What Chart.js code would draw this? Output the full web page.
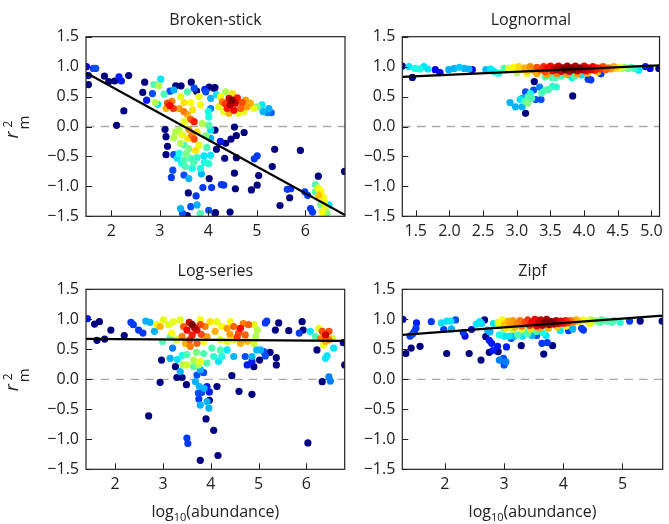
<!DOCTYPE html>
<html>
<head>
<meta charset="utf-8">
<script src="https://cdn.jsdelivr.net/npm/chart.js@4.4.1/dist/chart.umd.min.js"></script>
<style>
  body { margin: 0; background: #fff; }
  canvas { position: absolute; }
</style>
</head>
<body>
<canvas id="bsChart" width="350" height="250" style="left:0;top:0"></canvas>
<canvas id="lnChart" width="319" height="250" style="left:350px;top:0"></canvas>
<canvas id="lsChart" width="350" height="274" style="left:0;top:250px"></canvas>
<canvas id="zfChart" width="319" height="274" style="left:350px;top:250px"></canvas>
<script>
// each point: [log10(abundance), r2m, density 0..1 (colour in picture)]
const brokenStick = [
  [1.49,1.00,0.08],[1.63,0.97,0.2],[1.68,0.97,0.2],[1.53,0.85,0.05],[1.53,0.70,0],
  [1.86,0.84,0],[1.95,0.75,0],[2.07,0.76,0],[2.16,0.83,0.15],[2.21,0.76,0.15],[2.36,0.85,0],
  [2.26,0.26,0],[2.11,0.02,0],[2.69,0.74,0],[2.65,0.57,0],[2.73,0.44,0.15],[2.85,0.55,0.2],
  [2.88,0.70,0.45],[2.98,0.68,0.55],[3.02,0.79,0.35],[2.91,0.40,0.55],[2.96,0.37,0.35],[3.09,0.54,0.45],
  [3.21,0.35,0.88],[3.16,0.39,0.8],[3.28,0.30,0.82],[3.25,0.42,0.75],[3.13,0.30,0.7],
  [3.33,0.68,0],[3.44,0.68,0],[3.21,0.59,0.2],[3.29,0.61,0.3],[3.43,0.50,0.6],[3.50,0.40,0.65],
  [3.50,0.25,0.75],[3.64,0.40,0.62],[3.57,0.58,0.45],[3.65,0.74,0],[3.71,0.64,0.2],[3.81,0.50,0.6],
  [3.84,0.36,0.62],[3.95,0.58,0.2],[3.76,0.59,0],[3.93,0.62,0.15],
  [3.71,0.08,0.85],[3.64,0.12,0.78],[3.50,0.08,0.6],[3.46,-0.14,0.6],[3.40,-0.06,0.55],[3.71,-0.21,0.8],
  [3.77,-0.09,0.65],[3.74,-0.40,0.65],[3.81,-0.31,0.6],[3.60,-0.37,0.5],[3.50,-0.31,0.45],[3.43,-0.28,0.55],
  [3.29,-0.19,0.55],[3.33,-0.09,0.55],[3.57,0.20,0.7],[3.40,0.30,0.72],[3.68,0.28,0.65],[3.60,-0.05,0.72],
  [3.66,-0.15,0.75],
  [3.11,-0.05,0],[3.13,-0.17,0],[3.16,-0.33,0],[3.13,-0.47,0],[3.29,-0.47,0.2],[3.36,-0.53,0.35],
  [3.50,-0.56,0.45],[3.64,-0.53,0.45],[3.77,-0.52,0.42],[3.91,-0.49,0.35],[4.05,-0.48,0.35],[3.53,-0.67,0.45],
  [3.67,-0.70,0.4],[3.84,-0.70,0.4],[4.01,-0.62,0.42],[3.27,-0.73,0.2],[3.24,-0.85,0.18],[3.50,-0.81,0.2],
  [3.60,-0.87,0.3],[3.86,-0.79,0.3],[4.02,-0.87,0],[3.59,-1.11,0],[3.75,-1.16,0.18],[3.89,-1.02,0.18],
  [3.64,-1.34,0.2],[3.77,-1.31,0.3],[3.84,-1.45,0.45],[3.43,-1.37,0.3],[3.47,-1.45,0.2],[3.57,-1.49,0],
  [4.07,-1.02,0.18],[4.14,-1.45,0],[4.01,-1.40,0.2],
  [3.58,-0.20,0.65],[3.55,-0.45,0.5],[3.70,-0.60,0.45],[3.45,-0.62,0.4],[3.92,-0.60,0.4],[3.40,-0.45,0.4],
  [3.97,-0.35,0.45],[3.95,-0.15,0.5],[3.88,0.05,0.55],[4.00,0.25,0.4],
  [4.02,0.66,0],[4.12,0.64,0],[4.05,0.47,0.3],[4.05,0.30,0.25],[4.01,0.16,0.4],[4.01,0.02,0.45],
  [4.05,-0.06,0.35],[4.05,-0.20,0.3],
  [4.49,0.44,1.0],[4.43,0.47,0.92],[4.56,0.39,0.92],[4.39,0.30,0.85],[4.53,0.27,0.88],[4.67,0.30,0.78],
  [4.29,0.41,0.75],[4.25,0.50,0.62],[4.36,0.58,0.55],[4.22,0.33,0.6],[4.17,0.53,0.35],[4.77,0.44,0.72],
  [4.80,0.33,0.72],[4.87,0.39,0.7],[4.94,0.30,0.6],[4.74,0.25,0.6],[5.01,0.33,0.5],[5.11,0.36,0.35],
  [5.25,0.30,0.3],[5.22,0.23,0.25],[5.30,0.23,0.22],[5.13,0.25,0.3],[4.63,0.22,0.6],[4.43,0.22,0.7],
  [4.32,0.25,0.6],[4.45,0.36,0.95],[4.60,0.48,0.85],[4.70,0.40,0.8],[4.50,0.55,0.65],[4.35,0.38,0.82],
  [4.14,0.65,0],[4.14,-0.06,0],[4.54,-0.01,0],[4.58,-0.15,0],[4.47,-0.21,0],[4.74,-0.10,0],[4.25,-0.25,0.15],
  [4.36,-0.28,0],[4.17,-0.38,0],[4.34,-0.53,0],[4.58,-0.52,0],[5.37,-0.38,0],[5.90,-0.40,0],[4.95,-0.54,0.18],
  [5.01,-0.49,0.18],[5.32,-0.67,0],[4.54,-0.78,0],[5.04,-0.82,0],[4.27,-0.97,0.18],[4.32,-0.98,0.18],
  [4.56,-1.04,0],[5.01,-0.98,0],[4.89,-1.06,0],[5.63,-1.05,0.18],[5.70,-1.04,0.18],[5.68,-1.19,0],
  [5.48,-1.32,0],[4.15,-1.44,0],[4.45,-1.43,0],[6.81,-0.75,0],[6.27,-0.83,0],[5.99,-1.09,0.18],
  [6.05,-1.15,0.18],[6.11,-1.37,0.18],[6.15,-1.43,0.18],
  [6.21,-0.97,0.45],[6.26,-1.03,0.6],[6.32,-1.08,0.62],[6.28,-1.15,0.68],[6.37,-1.18,0.62],[6.39,-1.26,0.6],
  [6.32,-1.31,0.5],[6.42,-1.34,0.6],[6.35,-1.43,0.62],[6.45,-1.45,0.5],[6.21,-1.09,0.45],[6.49,-1.31,0.35]
];
const lognormal = [
  [1.30,1.01,0],[1.45,0.82,0],[1.40,1.00,0.35],[1.49,0.97,0.4],[1.56,0.96,0.4],[1.62,1.00,0.35],
  [1.68,0.96,0.35],[1.79,0.95,0.12],[1.86,0.90,0.1],[1.99,0.95,0.3],[2.07,0.97,0.3],[2.15,0.99,0.32],
  [2.22,0.97,0.3],[2.29,0.96,0.3],[2.34,0.95,0.12],[2.54,0.95,0.3],[2.61,0.96,0.35],[2.66,0.92,0.35],
  [2.73,0.89,0.4],[2.81,0.97,0.45],[2.88,0.97,0.6],
  [2.95,0.99,0.62],[2.98,0.94,0.6],[3.03,1.00,0.66],[3.06,0.95,0.65],[3.12,0.98,0.7],[3.15,0.93,0.68],
  [3.20,1.00,0.74],[3.24,0.95,0.74],[3.28,0.91,0.7],[3.30,0.99,0.8],[3.35,0.95,0.8],[3.40,1.00,0.84],
  [3.42,0.92,0.8],[3.46,0.97,0.88],[3.50,1.01,0.88],[3.53,0.93,0.88],[3.56,0.98,0.92],[3.60,0.95,0.95],
  [3.62,1.01,0.92],[3.66,0.92,0.92],[3.68,0.98,0.98],[3.72,0.95,1.0],[3.75,1.01,0.96],[3.78,0.92,0.95],
  [3.80,0.98,1.0],[3.84,0.95,1.0],[3.87,1.01,0.95],[3.90,0.93,0.95],[3.93,0.98,0.98],[3.97,0.95,0.95],
  [4.00,1.01,0.92],[4.03,0.93,0.9],[4.06,0.98,0.92],[4.10,0.95,0.9],[4.13,1.00,0.88],[4.16,0.94,0.85],
  [4.20,0.98,0.85],[4.24,0.96,0.82],[4.28,1.00,0.8],[4.32,0.95,0.78],[4.36,0.98,0.76],[4.40,0.96,0.72],
  [4.44,1.00,0.7],[4.48,0.97,0.66],[4.52,0.99,0.6],[4.56,0.97,0.56],[4.60,0.99,0.52],[4.65,0.97,0.48],
  [4.70,0.99,0.45],[4.75,0.97,0.42],
  [3.30,0.88,0.7],[3.45,0.87,0.72],[3.60,0.88,0.75],[3.75,0.87,0.72],[3.90,0.88,0.72],[4.05,0.89,0.7],
  [4.20,0.91,0.68],[3.15,0.89,0.62],[3.00,0.90,0.55],
  [3.57,0.82,0.45],[3.66,0.84,0.45],[3.86,0.84,0.45],[3.96,0.86,0.35],[4.06,0.79,0.18],[4.10,0.78,0.18],
  [4.25,0.88,0.18],[3.42,0.83,0.45],[3.52,0.82,0.45],[3.82,0.82,0.35],
  [4.81,0.94,0.35],[4.91,1.00,0.15],[4.98,0.97,0.12],[5.11,0.97,0],
  [2.90,0.40,0.3],[2.98,0.33,0.3],[3.05,0.45,0.35],[3.13,0.58,0.2],[3.13,0.22,0],[3.17,0.50,0.45],
  [3.16,0.39,0.5],[3.22,0.47,0.45],[3.26,0.75,0],[3.25,0.61,0.2],[3.28,0.45,0.2],[3.34,0.66,0.25],
  [3.36,0.45,0.2],[3.37,0.56,0.45],[3.42,0.61,0.45],[3.47,0.62,0.45],[3.53,0.67,0.42],[3.59,0.66,0.42],
  [3.08,0.33,0.3],[3.08,0.47,0.3],[3.12,0.42,0.45],[3.20,0.55,0.4],[3.83,0.51,0]
];
const logSeries = [
  [1.42,1.01,0.15],[1.57,0.92,0],[1.67,0.96,0],[1.62,0.65,0],[1.78,0.67,0],[1.91,0.82,0],[2.19,0.73,0],
  [2.33,0.95,0.18],[2.38,0.91,0.18],[2.49,0.82,0.18],[2.58,0.77,0.18],[2.64,0.97,0.3],[2.73,0.95,0.3],
  [2.70,-0.61,0],[2.82,0.80,0.3],[2.94,0.88,0.7],[2.87,0.91,0.62],[3.01,0.99,0.6],[2.99,0.63,0.45],
  [2.97,0.32,0],[2.94,-0.05,0],[3.20,0.52,0.25],[3.15,0.35,0.3],[3.26,0.21,0],[3.29,0.03,0],[3.40,0.03,0],
  [3.36,0.13,0.3],[3.42,0.24,0.55],[3.50,0.24,0.58],[3.49,-0.09,0],[3.50,-0.98,0.18],[3.52,-1.07,0.18],
  [3.61,0.91,1.0],[3.50,0.82,0.88],[3.71,0.82,0.9],[3.61,0.74,0.85],[3.43,0.88,0.78],[3.78,0.91,0.8],
  [3.88,0.88,0.75],[3.99,0.96,0.65],[3.40,0.71,0.75],[3.57,0.55,0.75],[3.71,0.60,0.78],[3.85,0.63,0.62],
  [3.92,0.71,0.72],[3.29,0.66,0.6],[3.18,0.77,0.62],[3.12,0.91,0.6],[3.22,0.96,0.6],[3.15,0.70,0.45],
  [3.36,0.99,0.6],[3.78,0.99,0.62],[3.55,0.95,0.92],[3.66,0.86,0.95],[3.56,0.66,0.8],[3.47,0.60,0.7],
  [3.80,0.75,0.8],
  [3.64,0.32,0.55],[3.78,0.30,0.6],[3.74,0.24,0.55],[3.64,0.21,0.45],[3.92,0.27,0.45],[3.50,0.41,0.45],
  [3.85,0.43,0.45],[4.06,0.38,0.42],[4.02,0.52,0.45],[4.20,0.49,0.45],[4.23,0.38,0.4],[4.16,0.30,0.35],
  [4.34,0.49,0.35],[4.48,0.38,0.3],[3.70,0.45,0.5],[3.40,0.40,0.4],[3.30,0.33,0.35],
  [3.71,0.07,0.2],[3.78,0.16,0.3],[3.85,0.11,0.2],[3.68,-0.04,0.3],[3.76,-0.12,0.3],[3.86,-0.15,0.3],
  [3.74,-0.23,0.2],[3.81,-0.22,0.2],[3.92,-0.12,0.15],[3.97,-0.21,0.15],[4.13,-0.12,0],[3.75,-0.33,0.18],
  [3.92,-0.37,0.3],[3.78,-0.43,0.3],[3.96,-0.48,0.3],[3.97,-0.35,0],[3.90,-0.66,0],[4.06,-0.85,0],
  [4.15,-1.27,0],[3.78,-1.35,0],[4.44,0.06,0],[4.59,-0.20,0],[4.86,-0.25,0],
  [4.48,0.88,0.78],[4.62,0.85,0.88],[4.58,0.77,0.8],[4.79,0.91,0.78],[4.72,0.74,0.78],[4.34,0.85,0.72],
  [4.23,0.88,0.62],[4.13,0.96,0.6],[4.41,0.96,0.62],[4.48,0.66,0.6],[4.62,0.60,0.7],[4.76,0.63,0.68],
  [4.34,0.63,0.6],[4.20,0.66,0.6],[4.90,0.91,0.6],[4.97,0.82,0.55],[4.94,0.71,0.55],[4.90,0.60,0.58],
  [4.09,0.80,0.7],[4.55,0.70,0.82],[4.68,0.93,0.75],[4.40,0.75,0.72],
  [5.04,0.49,0.3],[5.11,0.46,0.2],[5.14,0.39,0.2],[4.96,0.49,0.3],[4.86,0.38,0.3],[4.72,0.38,0.2],
  [4.86,0.30,0.15],[4.90,0.21,0],[4.76,0.24,0.15],[5.02,0.32,0],[5.24,0.45,0],[5.37,0.36,0],[5.37,0.24,0],
  [5.35,0.82,0],[5.42,0.94,0],[5.14,0.94,0.18],[5.17,0.97,0.18],[5.63,0.81,0],[5.91,0.96,0],[5.93,0.82,0],
  [5.85,0.77,0.18],[6.08,0.80,0.35],[6.22,0.49,0],[6.33,-0.04,0],[6.47,0.04,0.25],[6.50,-0.03,0.25],
  [6.03,-1.06,0],[6.77,0.61,0],[6.80,0.24,0],
  [6.40,0.74,0.92],[6.33,0.80,0.8],[6.47,0.80,0.8],[6.30,0.68,0.75],[6.47,0.66,0.75],[6.36,0.57,0.6],
  [6.26,0.85,0.6],[6.54,0.68,0.58],[6.57,0.52,0.35],[6.43,0.39,0.35],[6.40,0.35,0.35],[6.19,0.71,0.45],
  [6.40,0.63,0.7]
];
const zipf = [
  [1.29,1.00,0.05],[1.34,0.43,0],[1.43,0.52,0],[1.58,0.55,0],[1.41,0.72,0.18],[1.48,0.79,0.18],
  [1.51,0.85,0.18],[1.52,0.94,0.15],[1.45,0.75,0.2],[1.77,0.96,0.18],[1.94,0.94,0.35],[2.03,0.97,0.35],
  [2.10,0.97,0.35],[1.98,0.83,0.18],[2.11,0.84,0.3],[2.18,0.99,0.2],[2.03,0.43,0],[2.31,0.78,0.18],
  [2.34,0.72,0.1],[2.41,0.43,0],[2.45,0.83,0.1],[2.53,0.92,0.35],[2.59,0.96,0.35],[2.62,0.93,0.32],
  [2.67,0.99,0],[2.69,0.71,0],[2.75,0.65,0.15],[2.79,0.60,0.15],[2.61,0.32,0],[2.81,0.48,0.15],
  [2.89,0.55,0.15],[2.92,0.32,0.25],[2.99,0.35,0.2],[3.03,0.29,0.25],[3.04,0.54,0.15],[2.72,0.82,0.3],
  [2.76,0.79,0.3],[2.82,0.93,0.35],[2.90,0.94,0.45],[2.92,0.74,0.4],[3.00,0.72,0.35],[3.09,0.72,0.35],
  [3.17,0.72,0.3],[3.23,0.74,0.45],[3.31,0.72,0.35],[3.29,0.56,0],[3.12,0.68,0.2],[3.40,0.76,0.45],
  [2.75,0.45,0],[2.90,0.46,0],[3.00,0.24,0.2],
  [3.47,0.73,0.3],[3.55,0.73,0.2],[3.64,0.60,0.18],[3.73,0.61,0.18],[3.67,0.42,0],[3.82,0.56,0],
  [3.71,0.73,0.35],[3.95,0.81,0.35],[4.09,0.81,0.18],[4.16,0.84,0.3],[4.31,0.85,0.18],[4.34,0.82,0.18],
  [4.45,0.93,0.6],[4.62,0.95,0.45],[4.82,0.95,0.45],[4.96,0.95,0.42],[5.12,0.97,0.18],[5.30,0.97,0],
  [5.67,0.97,0],
  [2.90,0.95,0.6],[2.93,0.88,0.6],[2.97,0.99,0.62],[3.00,0.92,0.68],[3.04,0.86,0.65],[3.07,0.97,0.7],
  [3.10,0.91,0.72],[3.15,0.98,0.72],[3.18,0.87,0.7],[3.22,0.93,0.75],[3.27,0.98,0.76],[3.30,0.89,0.76],
  [3.35,0.95,0.8],[3.40,0.99,0.82],[3.43,0.90,0.84],[3.47,0.95,0.88],[3.52,1.00,0.88],[3.55,0.89,0.9],
  [3.58,0.94,0.94],[3.62,0.99,0.94],[3.65,0.90,0.95],[3.69,0.95,1.0],[3.72,1.00,0.96],[3.76,0.91,0.97],
  [3.80,0.96,1.0],[3.84,0.92,0.96],[3.88,0.98,0.94],[3.92,0.93,0.92],[3.96,0.97,0.9],[4.00,0.93,0.86],
  [4.04,0.98,0.84],[4.08,0.94,0.8],[4.12,0.98,0.78],[4.17,0.95,0.74],[4.22,0.99,0.7],[4.27,0.96,0.66],
  [4.33,0.99,0.62],[4.40,0.97,0.6],[4.47,0.99,0.56],[4.55,0.97,0.5],[4.65,0.99,0.46],[4.73,0.97,0.45],
  [4.85,0.98,0.45],
  [3.00,0.84,0.5],[3.15,0.83,0.55],[3.30,0.84,0.6],[3.45,0.84,0.65],[3.60,0.85,0.7],[3.75,0.85,0.7],
  [3.90,0.87,0.68],[4.05,0.89,0.6],[3.35,0.79,0.45],[3.55,0.80,0.45],[3.65,0.78,0.4]
];

// fitted lines, [x0, x1] and [y0, y1]
const bsFitX = [1.48, 6.82], bsFitY = [0.90, -1.48];
const lnFitX = [1.30, 5.12], lnFitY = [0.83, 1.02];
const lsFitX = [1.39, 6.80], lsFitY = [0.675, 0.64];
const zfFitX = [1.28, 5.68], zfFitY = [0.74, 1.06];

const yTicks = [-1.5, -1.0, -0.5, 0.0, 0.5, 1.0, 1.5];
const bsTicks = [2, 3, 4, 5, 6];
const lnTicks = [1.5, 2.0, 2.5, 3.0, 3.5, 4.0, 4.5, 5.0];
const lsTicks = [2, 3, 4, 5, 6];
const zfTicks = [2, 3, 4, 5];

const FONT = '"Open Sans", "DejaVu Sans", sans-serif';
const INK = "#222";
Chart.defaults.font.family = FONT;
Chart.defaults.color = INK;

function jet(v) {
  const c = (t) => Math.max(0, Math.min(1, t));
  const r = c(1.5 - Math.abs(4 * v - 3));
  const g = c(1.5 - Math.abs(4 * v - 2));
  const b = c(1.5 - Math.abs(4 * v - 1));
  return `rgb(${Math.round(r * 255)},${Math.round(g * 255)},${Math.round(b * 255)})`;
}

function minus(s) {
  return s.replace("-", "\u2212");
}

// zero line, box, inward ticks and the axis titles
const frame = {
  id: "frame",
  beforeDatasetsDraw(chart) {
    const { ctx, chartArea: a, scales } = chart;
    const y0 = scales.y.getPixelForValue(0);
    ctx.save();
    ctx.strokeStyle = "#aaaaaa";
    ctx.lineWidth = 1.3;
    ctx.setLineDash([8.5, 6.3]);
    ctx.beginPath();
    ctx.moveTo(a.left, y0);
    ctx.lineTo(a.right, y0);
    ctx.stroke();
    ctx.restore();
  },
  afterDraw(chart, args, opts) {
    const { ctx, chartArea: a, scales } = chart;
    ctx.save();
    ctx.strokeStyle = INK;
    ctx.lineWidth = 1.2;
    ctx.strokeRect(a.left, a.top, a.right - a.left, a.bottom - a.top);
    ctx.lineWidth = 1;
    ctx.beginPath();
    scales.x.ticks.forEach((t) => {
      const px = Math.round(scales.x.getPixelForValue(t.value)) + 0.5;
      ctx.moveTo(px, a.bottom);
      ctx.lineTo(px, a.bottom - 6);
    });
    scales.y.ticks.forEach((t) => {
      const py = Math.round(scales.y.getPixelForValue(t.value)) + 0.5;
      ctx.moveTo(a.left, py);
      ctx.lineTo(a.left + 6, py);
    });
    ctx.stroke();
    ctx.fillStyle = INK;
    ctx.textAlign = "left";
    ctx.textBaseline = "alphabetic";

    if (opts.yTitle) {
      ctx.save();
      ctx.translate(18, scales.y.getPixelForValue(0) + 12);
      ctx.rotate(-Math.PI / 2);
      ctx.font = "italic 18px " + FONT;
      ctx.fillText("r", 0, 0);
      const w = ctx.measureText("r").width;
      ctx.font = "12px " + FONT;
      ctx.fillText("2", w + 4, -6);
      ctx.font = "15px " + FONT;
      ctx.fillText("m", w + 2, 11);
      ctx.restore();
    }
    if (opts.xTitle) {
      const base = a.bottom + 48;
      ctx.font = "16px " + FONT;
      const wa = ctx.measureText("log").width;
      const wc = ctx.measureText("(abundance)").width;
      ctx.font = "11px " + FONT;
      const wb = ctx.measureText("10").width;
      let x = (a.left + a.right) / 2 - (wa + wb + wc) / 2;
      ctx.font = "16px " + FONT;
      ctx.fillText("log", x, base);
      x += wa;
      ctx.font = "11px " + FONT;
      ctx.fillText("10", x, base + 4);
      x += wb;
      ctx.font = "16px " + FONT;
      ctx.fillText("(abundance)", x, base);
    }
    ctx.restore();
  },
};

function makePanel(id, title, points, fitX, fitY, xMin, xMax, xTicks, dec, box) {
  const pts = points
    .map((p) => ({ x: p[0], y: p[1], d: p[2] }))
    .sort((p, q) => p.d - q.d);
  new Chart(document.getElementById(id), {
    type: "scatter",
    data: {
      datasets: [
        {
          type: "line",
          data: [
            { x: fitX[0], y: fitY[0] },
            { x: fitX[1], y: fitY[1] },
          ],
          borderColor: "#000",
          borderWidth: 2.2,
          pointRadius: 0,
          fill: false,
        },
        {
          data: pts,
          pointRadius: 3.6,
          borderWidth: 0,
          backgroundColor: (c) => jet(c.raw ? c.raw.d : 0),
        },
      ],
    },
    options: {
      responsive: false,
      animation: false,
      events: [],
      layout: { padding: { left: 0, right: box.right, top: 0, bottom: 0 } },
      plugins: {
        legend: { display: false },
        tooltip: { enabled: false },
        title: {
          display: true,
          text: title,
          fullSize: false,
          color: INK,
          font: { size: 16, weight: "normal", lineHeight: 1.2 },
          padding: { top: box.tTop, bottom: box.tBottom },
        },
        frame: { yTitle: box.yTitle, xTitle: box.xTitle },
      },
      scales: {
        x: {
          type: "linear",
          min: xMin,
          max: xMax,
          afterFit: (s) => { s.height = box.xh; },
          afterBuildTicks: (s) => { s.ticks = xTicks.map((v) => ({ value: v })); },
          grid: { display: false, drawTicks: false },
          border: { display: false },
          ticks: {
            autoSkip: false,
            maxRotation: 0,
            padding: 6,
            font: { size: 16 },
            color: INK,
            callback: (v) => v.toFixed(dec),
          },
        },
        y: {
          min: -1.5,
          max: 1.5,
          afterFit: (s) => { s.width = box.yw; },
          afterBuildTicks: (s) => { s.ticks = yTicks.map((v) => ({ value: v })); },
          grid: { display: false, drawTicks: false },
          border: { display: false },
          ticks: {
            padding: 7,
            font: { size: 16 },
            color: INK,
            callback: (v) => minus(v.toFixed(1)),
          },
        },
      },
    },
    plugins: [frame],
  });
}

makePanel("bsChart", "Broken-stick", brokenStick, bsFitX, bsFitY, 1.48, 6.82, bsTicks, 0,
  { right: 5, yw: 86, xh: 33.7, tTop: 10.4, tBottom: 7.1, yTitle: true, xTitle: false });
makePanel("lnChart", "Lognormal", lognormal, lnFitX, lnFitY, 1.30, 5.12, lnTicks, 1,
  { right: 6.3, yw: 52.3, xh: 33.7, tTop: 10.4, tBottom: 7.1, yTitle: false, xTitle: false });
makePanel("lsChart", "Log-series", logSeries, lsFitX, lsFitY, 1.39, 6.80, lsTicks, 0,
  { right: 5.3, yw: 86, xh: 54.7, tTop: 12.1, tBottom: 8.0, yTitle: true, xTitle: true });
makePanel("zfChart", "Zipf", zipf, zfFitX, zfFitY, 1.28, 5.68, zfTicks, 0,
  { right: 6.3, yw: 52.3, xh: 54.7, tTop: 12.1, tBottom: 8.0, yTitle: false, xTitle: true });
</script>
</body>
</html>
